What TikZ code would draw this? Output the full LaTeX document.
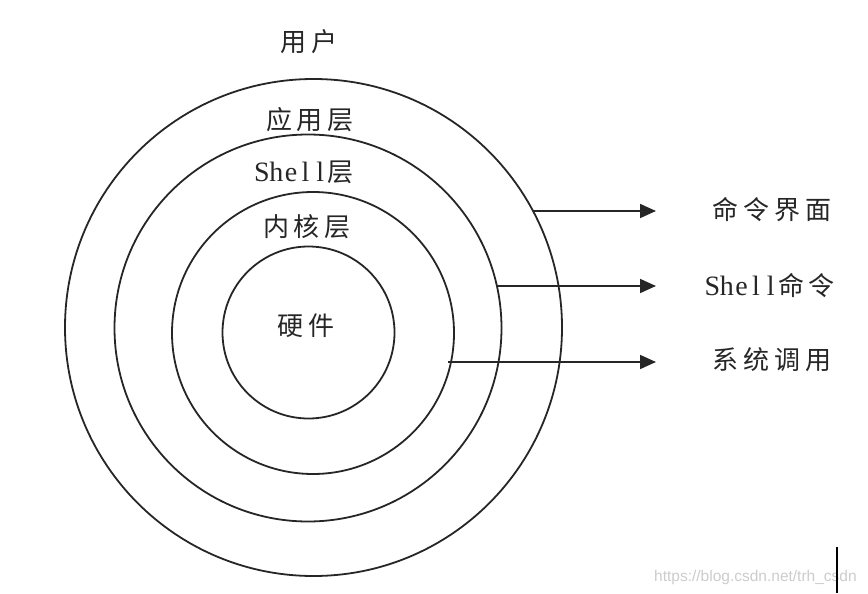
\documentclass[tikz,border=0pt]{standalone}
\usepackage{fontspec}
\setmainfont{Liberation Serif}
\newfontfamily\cjk[LetterSpace=19]{Noto Sans CJK SC}
\newfontfamily\wmfont{Liberation Sans}
\usetikzlibrary{arrows.meta}
\newcommand\hw[1]{\makebox[14.6pt]{#1}}
\newcommand\shellword{{\rmfamily\fontsize{28}{30}\selectfont\hw{S}\hw{h}\hw{e}\hw{l}\hw{l}}}
\begin{document}
\begin{tikzpicture}[x=1pt,y=-1pt,
  ring/.style={circle,draw=black!85,line width=1.8pt,inner sep=0pt,outer sep=0pt},
  lbl/.style={font=\cjk\fontsize{26}{28}\selectfont,text=black!85,inner sep=0pt},
  arr/.style={draw=black!85,line width=1.8pt,-{Triangle[length=16pt,width=14pt]}}
]
\useasboundingbox (0,0) rectangle (868,594);
% rings
\node[ring,minimum size=497pt] (c1) at (313.5,327.5) {};
\node[ring,minimum size=387pt] (c2) at (308,328) {};
\node[ring,minimum size=282pt] (c3) at (313,333) {};
\node[ring,minimum size=172pt] (c4) at (308.5,332.5) {};
% ring labels
\node[lbl] (user) at (309,42) {用户};
\node[lbl] (app) at (310,120) {应用层};
\node[lbl] (shell) at (304,172) {\shellword 层};
\node[lbl] (kern) at (307,227) {内核层};
\node[lbl] (hw) at (306,326) {硬件};
% right labels
\node[lbl] (cli) at (772,210) {命令界面};
\node[lbl] (shcmd) at (770,286) {\shellword 命令};
\node[lbl] (sys) at (772,360) {系统调用};
% arrow ends
\coordinate (t1) at (656,211);
\coordinate (t2) at (656,286);
\coordinate (t3) at (656,362);
\draw[arr] (c1.28 |- t1) -- (t1);
\draw[arr] (c2.12.5 |- t2) -- (t2);
\draw[arr] ([xshift=-3pt]c3.-12 |- t3) -- (t3);
% watermark
\node[font=\wmfont\fontsize{15.5}{17}\selectfont,text=black!20,anchor=west,inner sep=0pt] (wm) at (654,577) {https://blog.csdn.net/trh\_csdn};
\coordinate (b1) at (837,547);
\coordinate (b2) at (837,593);
\draw[line width=2pt,black] (b1) -- (b2);
\end{tikzpicture}
\end{document}
